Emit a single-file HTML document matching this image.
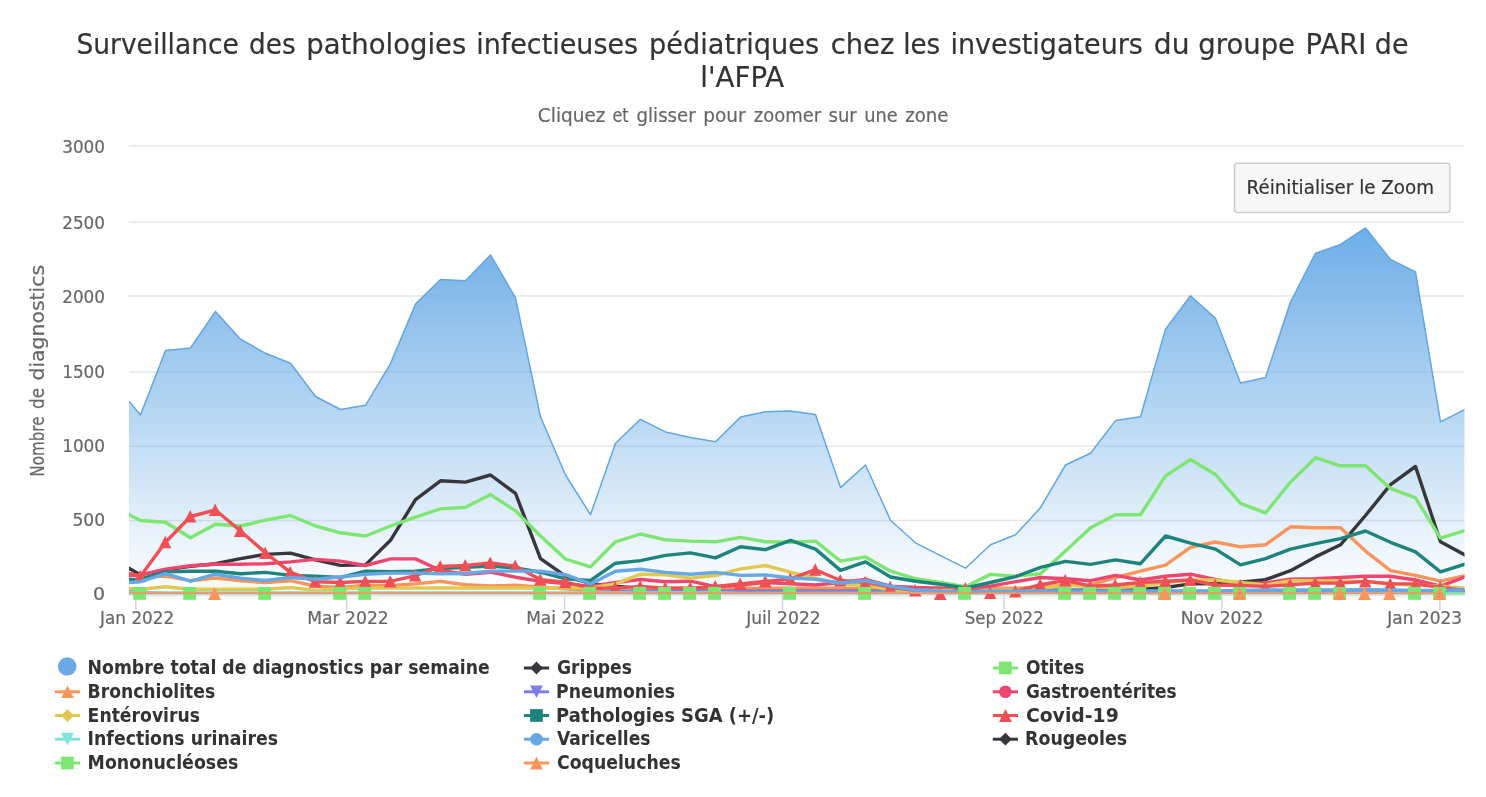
<!DOCTYPE html>
<html lang="fr"><head><meta charset="utf-8"><title>Surveillance PARI</title>
<style>html,body{margin:0;padding:0;background:#fff}svg{display:block}text{font-family:'DejaVu Sans', 'Liberation Sans', sans-serif;stroke-width:0.2px;paint-order:stroke}</style></head><body>
<svg width="1486" height="797" viewBox="0 0 1486 797">
<defs><linearGradient id="ag" x1="0" y1="0" x2="0" y2="1"><stop offset="0" stop-color="#6dade6" stop-opacity="1"/><stop offset="1" stop-color="#6dade6" stop-opacity="0"/></linearGradient>
<clipPath id="cp"><rect x="129.0" y="140" width="1335.5" height="454.10"/></clipPath></defs>
<rect width="1486" height="797" fill="#fff"/>
<path d="M129.0 146.10 H1464.5" stroke="#e6e6e6" stroke-width="1.5"/>
<path d="M129.0 221.95 H1464.5" stroke="#e6e6e6" stroke-width="1.5"/>
<path d="M129.0 296.10 H1464.5" stroke="#e6e6e6" stroke-width="1.5"/>
<path d="M129.0 371.95 H1464.5" stroke="#e6e6e6" stroke-width="1.5"/>
<path d="M129.0 446.10 H1464.5" stroke="#e6e6e6" stroke-width="1.5"/>
<path d="M129.0 520.40 H1464.5" stroke="#e6e6e6" stroke-width="1.5"/>
<path d="M129.0 594.85 H1464.5" stroke="#e6e6e6" stroke-width="1.5"/>
<path d="M129.0 594.85 H1464.5" stroke="#ccd6eb" stroke-width="1.5"/>
<path d="M135.8 594.1 V610.1" stroke="#ccd6eb" stroke-width="1.5"/>
<path d="M346.6 594.1 V610.1" stroke="#ccd6eb" stroke-width="1.5"/>
<path d="M564.6 594.1 V610.1" stroke="#ccd6eb" stroke-width="1.5"/>
<path d="M782.5 594.1 V610.1" stroke="#ccd6eb" stroke-width="1.5"/>
<path d="M1004.0 594.1 V610.1" stroke="#ccd6eb" stroke-width="1.5"/>
<path d="M1222.0 594.1 V610.1" stroke="#ccd6eb" stroke-width="1.5"/>
<path d="M1439.9 594.1 V610.1" stroke="#ccd6eb" stroke-width="1.5"/>
<g clip-path="url(#cp)" fill="none" stroke-linejoin="round" stroke-linecap="round">
<path d="M129.0 401.2 L140.5 415.0 L165.5 350.5 L190.5 348.0 L215.5 311.4 L240.5 339.2 L265.5 353.3 L290.5 363.3 L315.5 396.5 L340.5 409.5 L365.5 405.3 L390.5 363.6 L415.5 304.1 L440.5 279.5 L465.5 280.8 L490.5 254.9 L515.5 297.8 L540.5 416.8 L565.5 475.0 L590.5 514.7 L615.5 443.2 L640.5 419.3 L665.5 431.9 L690.5 437.4 L715.5 441.7 L740.5 417.1 L765.5 411.8 L790.5 411.0 L815.5 414.6 L840.5 487.6 L865.5 465.0 L890.5 520.2 L915.5 542.8 L940.5 555.6 L965.5 568.2 L990.5 544.8 L1015.5 534.8 L1040.5 507.7 L1065.5 465.0 L1090.5 453.2 L1115.5 420.6 L1140.5 416.8 L1165.5 329.2 L1190.5 295.8 L1215.5 318.4 L1240.5 382.9 L1265.5 377.4 L1290.5 302.1 L1315.5 253.2 L1340.5 244.4 L1365.5 228.0 L1390.5 259.4 L1415.5 272.0 L1440.5 421.8 L1465.0 409.3 L1465.0 594.1 L129.0 594.1 Z" fill="url(#ag)" stroke="none"/>
<path d="M129.0 401.2 L140.5 415.0 L165.5 350.5 L190.5 348.0 L215.5 311.4 L240.5 339.2 L265.5 353.3 L290.5 363.3 L315.5 396.5 L340.5 409.5 L365.5 405.3 L390.5 363.6 L415.5 304.1 L440.5 279.5 L465.5 280.8 L490.5 254.9 L515.5 297.8 L540.5 416.8 L565.5 475.0 L590.5 514.7 L615.5 443.2 L640.5 419.3 L665.5 431.9 L690.5 437.4 L715.5 441.7 L740.5 417.1 L765.5 411.8 L790.5 411.0 L815.5 414.6 L840.5 487.6 L865.5 465.0 L890.5 520.2 L915.5 542.8 L940.5 555.6 L965.5 568.2 L990.5 544.8 L1015.5 534.8 L1040.5 507.7 L1065.5 465.0 L1090.5 453.2 L1115.5 420.6 L1140.5 416.8 L1165.5 329.2 L1190.5 295.8 L1215.5 318.4 L1240.5 382.9 L1265.5 377.4 L1290.5 302.1 L1315.5 253.2 L1340.5 244.4 L1365.5 228.0 L1390.5 259.4 L1415.5 272.0 L1440.5 421.8 L1465.0 409.3" stroke="#62a6e2" stroke-width="1.5"/>
<path d="M129.0 568.2 L140.5 574.9 L165.5 569.9 L190.5 566.2 L215.5 563.7 L240.5 558.6 L265.5 554.4 L290.5 553.1 L315.5 559.9 L340.5 565.4 L365.5 564.9 L390.5 540.3 L415.5 499.6 L440.5 480.8 L465.5 482.1 L490.5 475.0 L515.5 493.4 L540.5 558.6 L565.5 576.2 L590.5 583.7 L615.5 586.2 L640.5 588.5 L665.5 590.2 L690.5 590.2 L715.5 590.2 L740.5 590.2 L765.5 590.2 L790.5 590.2 L815.5 590.2 L840.5 590.2 L865.5 590.2 L890.5 590.2 L915.5 590.2 L940.5 590.2 L965.5 590.2 L990.5 590.2 L1015.5 590.2 L1040.5 590.2 L1065.5 590.2 L1090.5 590.2 L1115.5 590.2 L1140.5 589.5 L1165.5 587.5 L1190.5 583.9 L1215.5 583.5 L1240.5 582.2 L1265.5 579.7 L1290.5 570.7 L1315.5 556.9 L1340.5 544.8 L1365.5 515.5 L1390.5 484.6 L1415.5 466.5 L1440.5 541.8 L1465.0 554.9" stroke="#36363b" stroke-width="3.4"/>
<path d="M129.0 514.7 L140.5 520.5 L165.5 522.2 L190.5 537.8 L215.5 524.2 L240.5 526.0 L265.5 520.2 L290.5 515.5 L315.5 526.0 L340.5 532.8 L365.5 536.0 L390.5 526.0 L415.5 517.2 L440.5 508.9 L465.5 507.2 L490.5 494.6 L515.5 510.9 L540.5 536.0 L565.5 559.1 L590.5 566.9 L615.5 541.8 L640.5 534.0 L665.5 539.8 L690.5 541.1 L715.5 541.8 L740.5 537.3 L765.5 541.8 L790.5 542.3 L815.5 541.1 L840.5 561.1 L865.5 556.9 L890.5 571.2 L915.5 578.7 L940.5 582.5 L965.5 586.7 L990.5 574.4 L1015.5 576.2 L1040.5 573.7 L1065.5 551.1 L1090.5 527.8 L1115.5 514.7 L1140.5 514.7 L1165.5 475.8 L1190.5 459.5 L1215.5 474.5 L1240.5 503.4 L1265.5 512.9 L1290.5 482.1 L1315.5 457.7 L1340.5 465.8 L1365.5 465.8 L1390.5 488.4 L1415.5 497.9 L1440.5 538.1 L1465.0 530.5" stroke="#7de673" stroke-width="3.4"/>
<path d="M129.0 573.7 L140.5 576.2 L165.5 576.2 L190.5 580.7 L215.5 578.0 L240.5 580.7 L265.5 582.5 L290.5 580.7 L315.5 586.2 L340.5 587.5 L365.5 585.5 L390.5 585.5 L415.5 583.9 L440.5 581.4 L465.5 584.7 L490.5 585.9 L515.5 585.2 L540.5 587.2 L565.5 588.9 L590.5 591.4 L615.5 588.1 L640.5 588.1 L665.5 588.1 L690.5 588.1 L715.5 588.1 L740.5 588.1 L765.5 588.1 L790.5 588.1 L815.5 588.1 L840.5 588.1 L865.5 588.1 L890.5 588.1 L915.5 588.1 L940.5 588.1 L965.5 588.1 L990.5 588.1 L1015.5 588.1 L1040.5 587.1 L1065.5 585.0 L1090.5 585.0 L1115.5 577.5 L1140.5 571.2 L1165.5 565.1 L1190.5 547.3 L1215.5 542.0 L1240.5 546.8 L1265.5 544.8 L1290.5 526.8 L1315.5 527.8 L1340.5 527.8 L1365.5 551.1 L1390.5 570.7 L1415.5 575.4 L1440.5 581.2 L1465.0 575.7" stroke="#f9955a" stroke-width="3.4"/>
<path d="M129.0 591.8 L140.5 592.2 L165.5 593.4 L190.5 593.4 L215.5 593.4 L240.5 593.4 L265.5 593.4 L290.5 593.4 L315.5 593.4 L340.5 593.4 L365.5 593.4 L390.5 593.4 L415.5 593.4 L440.5 593.4 L465.5 593.4 L490.5 593.4 L515.5 593.4 L540.5 593.4 L565.5 593.4 L590.5 593.4 L615.5 591.4 L640.5 591.4 L665.5 591.4 L690.5 591.4 L715.5 591.4 L740.5 591.4 L765.5 591.4 L790.5 591.4 L815.5 591.4 L840.5 591.4 L865.5 591.4 L890.5 591.4 L915.5 591.4 L940.5 591.4 L965.5 591.4 L990.5 591.4 L1015.5 591.4 L1040.5 591.4 L1065.5 591.4 L1090.5 591.4 L1115.5 591.4 L1140.5 591.4 L1165.5 591.4 L1190.5 591.4 L1215.5 591.4 L1240.5 591.4 L1265.5 591.4 L1290.5 591.4 L1315.5 591.4 L1340.5 591.4 L1365.5 591.4 L1390.5 591.4 L1415.5 591.4 L1440.5 591.4 L1465.0 591.4" stroke="#7b7fe6" stroke-width="3.4"/>
<path d="M129.0 575.5 L140.5 574.9 L165.5 569.2 L190.5 565.7 L215.5 564.2 L240.5 564.2 L265.5 563.7 L290.5 561.9 L315.5 559.4 L340.5 561.1 L365.5 565.5 L390.5 558.9 L415.5 558.9 L440.5 570.5 L465.5 574.2 L490.5 572.2 L515.5 577.2 L540.5 581.4 L565.5 583.5 L590.5 586.4 L615.5 582.5 L640.5 579.5 L665.5 581.7 L690.5 581.2 L715.5 586.7 L740.5 585.0 L765.5 582.5 L790.5 583.7 L815.5 585.0 L840.5 582.5 L865.5 579.5 L890.5 586.2 L915.5 587.5 L940.5 588.2 L965.5 589.3 L990.5 586.2 L1015.5 581.7 L1040.5 577.5 L1065.5 578.7 L1090.5 580.7 L1115.5 575.4 L1140.5 580.0 L1165.5 576.2 L1190.5 574.2 L1215.5 579.5 L1240.5 583.7 L1265.5 583.0 L1290.5 579.2 L1315.5 578.7 L1340.5 577.5 L1365.5 576.2 L1390.5 576.2 L1415.5 580.0 L1440.5 586.2 L1465.0 577.0" stroke="#ee466e" stroke-width="3.4"/>
<path d="M129.0 588.5 L140.5 589.3 L165.5 586.7 L190.5 589.3 L215.5 589.3 L240.5 589.3 L265.5 589.3 L290.5 587.5 L315.5 590.5 L340.5 588.8 L365.5 588.0 L390.5 588.0 L415.5 588.0 L440.5 588.0 L465.5 588.0 L490.5 588.0 L515.5 588.0 L540.5 588.0 L565.5 588.0 L590.5 588.0 L615.5 583.9 L640.5 574.2 L665.5 574.7 L690.5 578.1 L715.5 575.5 L740.5 568.9 L765.5 565.5 L790.5 572.2 L815.5 578.1 L840.5 583.9 L865.5 585.0 L890.5 590.0 L915.5 590.5 L940.5 590.5 L965.5 590.5 L990.5 590.5 L1015.5 590.0 L1040.5 588.8 L1065.5 585.0 L1090.5 586.7 L1115.5 587.5 L1140.5 586.5 L1165.5 582.5 L1190.5 580.0 L1215.5 580.0 L1240.5 582.5 L1265.5 585.0 L1290.5 580.7 L1315.5 580.7 L1340.5 581.2 L1365.5 581.7 L1390.5 583.7 L1415.5 585.0 L1440.5 586.2 L1465.0 588.2" stroke="#e1c850" stroke-width="3.4"/>
<path d="M129.0 579.5 L140.5 579.2 L165.5 571.9 L190.5 571.2 L215.5 571.2 L240.5 573.7 L265.5 572.4 L290.5 575.4 L315.5 576.2 L340.5 577.5 L365.5 571.2 L390.5 571.7 L415.5 571.2 L440.5 568.5 L465.5 567.2 L490.5 566.0 L515.5 568.0 L540.5 572.2 L565.5 578.9 L590.5 580.5 L615.5 563.2 L640.5 560.6 L665.5 555.4 L690.5 552.9 L715.5 557.9 L740.5 546.8 L765.5 549.6 L790.5 540.3 L815.5 549.1 L840.5 570.4 L865.5 561.9 L890.5 577.0 L915.5 581.2 L940.5 584.2 L965.5 588.0 L990.5 582.5 L1015.5 576.7 L1040.5 567.4 L1065.5 561.4 L1090.5 564.4 L1115.5 559.9 L1140.5 563.7 L1165.5 536.0 L1190.5 543.1 L1215.5 549.1 L1240.5 564.9 L1265.5 558.6 L1290.5 549.1 L1315.5 543.6 L1340.5 538.6 L1365.5 531.0 L1390.5 542.3 L1415.5 551.9 L1440.5 571.9 L1465.0 564.2" stroke="#1d847d" stroke-width="3.4"/>
<path d="M129.0 573.5 L140.5 576.2 L165.5 542.3 L190.5 516.5 L215.5 510.0 L240.5 531.0 L265.5 552.9 L290.5 572.4 L315.5 581.7 L340.5 582.5 L365.5 581.4 L390.5 581.4 L415.5 575.6 L440.5 566.4 L465.5 565.5 L490.5 563.0 L515.5 566.0 L540.5 579.7 L565.5 582.2 L590.5 588.1 L615.5 588.1 L640.5 586.4 L665.5 588.1 L690.5 588.1 L715.5 586.4 L740.5 583.9 L765.5 581.4 L790.5 578.9 L815.5 569.7 L840.5 580.5 L865.5 582.2 L890.5 587.2 L915.5 590.5 L940.5 594.1 L965.5 588.5 L990.5 593.1 L1015.5 591.4 L1040.5 584.7 L1065.5 580.5 L1090.5 586.2 L1115.5 585.0 L1140.5 582.5 L1165.5 581.2 L1190.5 580.0 L1215.5 585.0 L1240.5 585.5 L1265.5 586.4 L1290.5 584.7 L1315.5 583.1 L1340.5 583.1 L1365.5 581.4 L1390.5 583.9 L1415.5 583.9 L1440.5 587.2 L1465.0 590.5" stroke="#f05055" stroke-width="3.4"/>
</g><g>
<path d="M140.2 569.7 L146.4 582.2 L133.9 582.2 Z" fill="#f05055"/>
<path d="M165.2 535.8 L171.4 548.2 L158.9 548.2 Z" fill="#f05055"/>
<path d="M190.2 510.0 L196.4 522.5 L183.9 522.5 Z" fill="#f05055"/>
<path d="M215.2 503.4 L221.4 516.0 L208.9 516.0 Z" fill="#f05055"/>
<path d="M240.2 524.5 L246.4 537.0 L233.9 537.0 Z" fill="#f05055"/>
<path d="M265.2 546.4 L271.4 558.9 L258.9 558.9 Z" fill="#f05055"/>
<path d="M290.2 565.9 L296.4 578.4 L283.9 578.4 Z" fill="#f05055"/>
<path d="M315.2 575.2 L321.4 587.7 L308.9 587.7 Z" fill="#f05055"/>
<path d="M340.2 576.0 L346.4 588.5 L333.9 588.5 Z" fill="#f05055"/>
<path d="M365.2 574.9 L371.4 587.4 L358.9 587.4 Z" fill="#f05055"/>
<path d="M390.2 574.9 L396.4 587.4 L383.9 587.4 Z" fill="#f05055"/>
<path d="M415.2 569.1 L421.4 581.6 L408.9 581.6 Z" fill="#f05055"/>
<path d="M440.2 559.9 L446.4 572.4 L433.9 572.4 Z" fill="#f05055"/>
<path d="M465.2 559.0 L471.4 571.5 L458.9 571.5 Z" fill="#f05055"/>
<path d="M490.2 556.5 L496.4 569.0 L483.9 569.0 Z" fill="#f05055"/>
<path d="M515.2 559.5 L521.5 572.0 L509.0 572.0 Z" fill="#f05055"/>
<path d="M540.2 573.2 L546.5 585.7 L534.0 585.7 Z" fill="#f05055"/>
<path d="M565.2 575.7 L571.5 588.2 L559.0 588.2 Z" fill="#f05055"/>
<path d="M590.2 581.6 L596.5 594.1 L584.0 594.1 Z" fill="#f05055"/>
<path d="M615.2 581.6 L621.5 594.1 L609.0 594.1 Z" fill="#f05055"/>
<path d="M640.2 579.9 L646.5 592.4 L634.0 592.4 Z" fill="#f05055"/>
<path d="M665.2 581.6 L671.5 594.1 L659.0 594.1 Z" fill="#f05055"/>
<path d="M690.2 581.6 L696.5 594.1 L684.0 594.1 Z" fill="#f05055"/>
<path d="M715.2 579.9 L721.5 592.4 L709.0 592.4 Z" fill="#f05055"/>
<path d="M740.2 577.4 L746.5 589.9 L734.0 589.9 Z" fill="#f05055"/>
<path d="M765.2 574.9 L771.5 587.4 L759.0 587.4 Z" fill="#f05055"/>
<path d="M790.2 572.4 L796.5 584.9 L784.0 584.9 Z" fill="#f05055"/>
<path d="M815.2 563.2 L821.5 575.7 L809.0 575.7 Z" fill="#f05055"/>
<path d="M840.2 574.0 L846.5 586.5 L834.0 586.5 Z" fill="#f05055"/>
<path d="M865.2 575.7 L871.5 588.2 L859.0 588.2 Z" fill="#f05055"/>
<path d="M890.2 580.7 L896.5 593.2 L884.0 593.2 Z" fill="#f05055"/>
<path d="M915.2 584.0 L921.5 596.5 L909.0 596.5 Z" fill="#f05055"/>
<path d="M940.2 587.6 L946.5 600.1 L934.0 600.1 Z" fill="#f05055"/>
<path d="M965.2 582.0 L971.5 594.5 L959.0 594.5 Z" fill="#f05055"/>
<path d="M990.2 586.6 L996.5 599.1 L984.0 599.1 Z" fill="#f05055"/>
<path d="M1015.2 584.9 L1021.5 597.4 L1009.0 597.4 Z" fill="#f05055"/>
<path d="M1040.2 578.2 L1046.5 590.7 L1034.0 590.7 Z" fill="#f05055"/>
<path d="M1065.2 574.0 L1071.5 586.5 L1059.0 586.5 Z" fill="#f05055"/>
<path d="M1090.2 579.7 L1096.5 592.2 L1084.0 592.2 Z" fill="#f05055"/>
<path d="M1115.2 578.5 L1121.5 591.0 L1109.0 591.0 Z" fill="#f05055"/>
<path d="M1140.2 576.0 L1146.5 588.5 L1134.0 588.5 Z" fill="#f05055"/>
<path d="M1165.2 574.7 L1171.5 587.2 L1159.0 587.2 Z" fill="#f05055"/>
<path d="M1190.2 573.5 L1196.5 586.0 L1184.0 586.0 Z" fill="#f05055"/>
<path d="M1215.2 578.5 L1221.5 591.0 L1209.0 591.0 Z" fill="#f05055"/>
<path d="M1240.2 579.0 L1246.5 591.5 L1234.0 591.5 Z" fill="#f05055"/>
<path d="M1265.2 579.9 L1271.5 592.4 L1259.0 592.4 Z" fill="#f05055"/>
<path d="M1290.2 578.2 L1296.5 590.7 L1284.0 590.7 Z" fill="#f05055"/>
<path d="M1315.2 576.6 L1321.5 589.1 L1309.0 589.1 Z" fill="#f05055"/>
<path d="M1340.2 576.6 L1346.5 589.1 L1334.0 589.1 Z" fill="#f05055"/>
<path d="M1365.2 574.9 L1371.5 587.4 L1359.0 587.4 Z" fill="#f05055"/>
<path d="M1390.2 577.4 L1396.5 589.9 L1384.0 589.9 Z" fill="#f05055"/>
<path d="M1415.2 577.4 L1421.5 589.9 L1409.0 589.9 Z" fill="#f05055"/>
<path d="M1440.2 580.7 L1446.5 593.2 L1434.0 593.2 Z" fill="#f05055"/>
</g><g clip-path="url(#cp)" fill="none" stroke-linejoin="round" stroke-linecap="round">
<path d="M129.0 593.0 L140.5 593.0 L165.5 593.0 L190.5 593.0 L215.5 593.0 L240.5 593.0 L265.5 593.0 L290.5 593.0 L315.5 593.0 L340.5 593.0 L365.5 593.0 L390.5 593.0 L415.5 593.0 L440.5 593.0 L465.5 593.0 L490.5 593.0 L515.5 593.0 L540.5 593.0 L565.5 593.0 L590.5 593.0 L615.5 593.0 L640.5 593.0 L665.5 593.0 L690.5 593.0 L715.5 593.0 L740.5 593.5 L765.5 593.5 L790.5 593.5 L815.5 593.5 L840.5 593.5 L865.5 593.5 L890.5 593.5 L915.5 593.5 L940.5 593.5 L965.5 593.5 L990.5 593.5 L1015.5 593.5 L1040.5 593.5 L1065.5 593.5 L1090.5 593.5 L1115.5 593.5 L1140.5 593.5 L1165.5 593.5 L1190.5 593.5 L1215.5 593.5 L1240.5 593.5 L1265.5 593.5 L1290.5 593.5 L1315.5 593.5 L1340.5 593.5 L1365.5 593.5 L1390.5 593.5 L1415.5 593.5 L1440.5 593.5 L1465.0 593.5" stroke="#7de4dc" stroke-width="3.4"/>
<path d="M129.0 582.5 L140.5 581.7 L165.5 573.7 L190.5 581.2 L215.5 574.2 L240.5 578.2 L265.5 580.5 L290.5 577.5 L315.5 579.2 L340.5 577.0 L365.5 574.2 L390.5 573.1 L415.5 573.1 L440.5 573.9 L465.5 573.5 L490.5 571.1 L515.5 571.1 L540.5 571.1 L565.5 574.7 L590.5 583.9 L615.5 571.2 L640.5 569.2 L665.5 572.4 L690.5 574.2 L715.5 572.4 L740.5 575.4 L765.5 574.9 L790.5 578.0 L815.5 579.2 L840.5 583.0 L865.5 580.7 L890.5 586.2 L915.5 590.0 L940.5 591.3 L965.5 591.8 L990.5 591.3 L1015.5 591.3 L1040.5 591.0 L1065.5 591.0 L1090.5 591.0 L1115.5 591.0 L1140.5 591.0 L1165.5 591.0 L1190.5 591.0 L1215.5 591.0 L1240.5 590.5 L1265.5 590.0 L1290.5 590.0 L1315.5 590.0 L1340.5 590.0 L1365.5 589.7 L1390.5 590.0 L1415.5 590.5 L1440.5 590.5 L1465.0 589.5" stroke="#66a8e3" stroke-width="3.4"/>
<path d="M129.0 594.1 H1464.5" stroke="#36363b" stroke-width="1.5"/>
<path d="M1440.5 594.1 L1464.5 594.1" stroke="#7de673" stroke-width="3.4"/>
</g><g>
<rect x="133.2" y="586.9" width="12.9" height="12.9" fill="#7de673"/>
<rect x="183.2" y="586.9" width="12.9" height="12.9" fill="#7de673"/>
<rect x="258.2" y="586.9" width="12.9" height="12.9" fill="#7de673"/>
<rect x="333.2" y="586.9" width="12.9" height="12.9" fill="#7de673"/>
<rect x="358.2" y="586.9" width="12.9" height="12.9" fill="#7de673"/>
<rect x="533.1" y="586.9" width="12.9" height="12.9" fill="#7de673"/>
<rect x="583.1" y="586.9" width="12.9" height="12.9" fill="#7de673"/>
<rect x="633.1" y="586.9" width="12.9" height="12.9" fill="#7de673"/>
<rect x="658.1" y="586.9" width="12.9" height="12.9" fill="#7de673"/>
<rect x="683.1" y="586.9" width="12.9" height="12.9" fill="#7de673"/>
<rect x="708.1" y="586.9" width="12.9" height="12.9" fill="#7de673"/>
<rect x="783.1" y="586.9" width="12.9" height="12.9" fill="#7de673"/>
<rect x="858.1" y="586.9" width="12.9" height="12.9" fill="#7de673"/>
<rect x="958.1" y="586.9" width="12.9" height="12.9" fill="#7de673"/>
<rect x="1058.1" y="586.9" width="12.9" height="12.9" fill="#7de673"/>
<rect x="1083.1" y="586.9" width="12.9" height="12.9" fill="#7de673"/>
<rect x="1108.1" y="586.9" width="12.9" height="12.9" fill="#7de673"/>
<rect x="1133.1" y="586.9" width="12.9" height="12.9" fill="#7de673"/>
<rect x="1158.1" y="586.9" width="12.9" height="12.9" fill="#7de673"/>
<rect x="1183.1" y="586.9" width="12.9" height="12.9" fill="#7de673"/>
<rect x="1208.1" y="586.9" width="12.9" height="12.9" fill="#7de673"/>
<rect x="1233.1" y="586.9" width="12.9" height="12.9" fill="#7de673"/>
<rect x="1283.1" y="586.9" width="12.9" height="12.9" fill="#7de673"/>
<rect x="1308.1" y="586.9" width="12.9" height="12.9" fill="#7de673"/>
<rect x="1333.1" y="586.9" width="12.9" height="12.9" fill="#7de673"/>
<rect x="1408.1" y="586.9" width="12.9" height="12.9" fill="#7de673"/>
<rect x="1433.1" y="586.9" width="12.9" height="12.9" fill="#7de673"/>
</g><g clip-path="url(#cp)" fill="none">
<path d="M129.0 594.1 H1440.5" stroke="#f9955a" stroke-width="3.80"/>
</g><g>
<path d="M214.6 586.9 L221.0 599.9 L208.2 599.9 Z" fill="#f9955a"/>
<path d="M1164.6 586.9 L1171.0 599.9 L1158.1 599.9 Z" fill="#f9955a"/>
<path d="M1239.6 586.9 L1246.0 599.9 L1233.1 599.9 Z" fill="#f9955a"/>
<path d="M1339.6 586.9 L1346.0 599.9 L1333.1 599.9 Z" fill="#f9955a"/>
<path d="M1364.6 586.9 L1371.0 599.9 L1358.1 599.9 Z" fill="#f9955a"/>
<path d="M1389.6 586.9 L1396.0 599.9 L1383.1 599.9 Z" fill="#f9955a"/>
<path d="M1439.6 586.9 L1446.0 599.9 L1433.1 599.9 Z" fill="#f9955a"/>
</g>
<text y="53.90" font-size="28.7" fill="#333" stroke="#333" font-weight="normal"><tspan x="76.48" textLength="162.32" lengthAdjust="spacingAndGlyphs">Surveillance</tspan> <tspan x="249.08" textLength="46.58" lengthAdjust="spacingAndGlyphs">des</tspan> <tspan x="306.28" textLength="160.02" lengthAdjust="spacingAndGlyphs">pathologies</tspan> <tspan x="476.22" textLength="161.87" lengthAdjust="spacingAndGlyphs">infectieuses</tspan> <tspan x="649.11" textLength="170.09" lengthAdjust="spacingAndGlyphs">pédiatriques</tspan> <tspan x="830.75" textLength="63.56" lengthAdjust="spacingAndGlyphs">chez</tspan> <tspan x="903.17" textLength="37.09" lengthAdjust="spacingAndGlyphs">les</tspan> <tspan x="950.52" textLength="192.37" lengthAdjust="spacingAndGlyphs">investigateurs</tspan> <tspan x="1153.82" textLength="35.72" lengthAdjust="spacingAndGlyphs">du</tspan> <tspan x="1198.24" textLength="96.78" lengthAdjust="spacingAndGlyphs">groupe</tspan> <tspan x="1305.59" textLength="60.77" lengthAdjust="spacingAndGlyphs">PARI</tspan> <tspan x="1374.86" textLength="33.54" lengthAdjust="spacingAndGlyphs">de</tspan></text>
<text x="700.27" y="87.00" font-size="28.7" fill="#333" stroke="#333" font-weight="normal" textLength="83.97" lengthAdjust="spacingAndGlyphs">l'AFPA</text>
<text y="121.50" font-size="19.4" fill="#666" stroke="#666" font-weight="normal"><tspan x="537.85" textLength="67.72" lengthAdjust="spacingAndGlyphs">Cliquez</tspan> <tspan x="612.47" textLength="16.20" lengthAdjust="spacingAndGlyphs">et</tspan> <tspan x="636.56" textLength="59.11" lengthAdjust="spacingAndGlyphs">glisser</tspan> <tspan x="703.15" textLength="42.43" lengthAdjust="spacingAndGlyphs">pour</tspan> <tspan x="753.80" textLength="67.47" lengthAdjust="spacingAndGlyphs">zoomer</tspan> <tspan x="828.57" textLength="28.20" lengthAdjust="spacingAndGlyphs">sur</tspan> <tspan x="864.28" textLength="33.57" lengthAdjust="spacingAndGlyphs">une</tspan> <tspan x="905.20" textLength="43.27" lengthAdjust="spacingAndGlyphs">zone</tspan></text>
<text x="62.20" y="153.20" font-size="17.2" fill="#666" stroke="#666" font-weight="normal" textLength="42.81" lengthAdjust="spacingAndGlyphs">3000</text>
<text x="62.20" y="229.20" font-size="17.2" fill="#666" stroke="#666" font-weight="normal" textLength="42.81" lengthAdjust="spacingAndGlyphs">2500</text>
<text x="62.20" y="303.20" font-size="17.2" fill="#666" stroke="#666" font-weight="normal" textLength="42.81" lengthAdjust="spacingAndGlyphs">2000</text>
<text x="62.20" y="378.20" font-size="17.2" fill="#666" stroke="#666" font-weight="normal" textLength="42.81" lengthAdjust="spacingAndGlyphs">1500</text>
<text x="62.20" y="452.20" font-size="17.2" fill="#666" stroke="#666" font-weight="normal" textLength="42.81" lengthAdjust="spacingAndGlyphs">1000</text>
<text x="72.52" y="526.35" font-size="17.2" fill="#666" stroke="#666" font-weight="normal" textLength="32.51" lengthAdjust="spacingAndGlyphs">500</text>
<text x="93.07" y="600.10" font-size="17.2" fill="#666" stroke="#666" font-weight="normal" textLength="12.07" lengthAdjust="spacingAndGlyphs">0</text>
<text x="100.08" y="624.30" font-size="17.2" fill="#666" stroke="#666" font-weight="normal" textLength="74.14" lengthAdjust="spacingAndGlyphs">Jan 2022</text>
<text x="307.15" y="624.30" font-size="17.2" fill="#666" stroke="#666" font-weight="normal" textLength="81.64" lengthAdjust="spacingAndGlyphs">Mar 2022</text>
<text x="526.16" y="624.30" font-size="17.2" fill="#666" stroke="#666" font-weight="normal" textLength="78.62" lengthAdjust="spacingAndGlyphs">Mai 2022</text>
<text x="746.15" y="624.30" font-size="17.2" fill="#666" stroke="#666" font-weight="normal" textLength="74.64" lengthAdjust="spacingAndGlyphs">Juil 2022</text>
<text x="964.73" y="624.30" font-size="17.2" fill="#666" stroke="#666" font-weight="normal" textLength="79.08" lengthAdjust="spacingAndGlyphs">Sep 2022</text>
<text x="1180.70" y="624.30" font-size="17.2" fill="#666" stroke="#666" font-weight="normal" textLength="82.73" lengthAdjust="spacingAndGlyphs">Nov 2022</text>
<text x="1387.29" y="624.30" font-size="17.2" fill="#666" stroke="#666" font-weight="normal" textLength="74.84" lengthAdjust="spacingAndGlyphs">Jan 2023</text>
<g transform="translate(43.6 0) rotate(-90)">
<text y="0.00" font-size="19.4" fill="#666" stroke="#666" font-weight="normal"><tspan x="-476.68" textLength="60.21" lengthAdjust="spacingAndGlyphs">Nombre</tspan> <tspan x="-408.97" textLength="21.19" lengthAdjust="spacingAndGlyphs">de</tspan> <tspan x="-380.55" textLength="115.56" lengthAdjust="spacingAndGlyphs">diagnostics</tspan></text>
</g>
<rect x="1234.5" y="163.2" width="215.4" height="49.4" rx="3" ry="3" fill="#f7f7f7" stroke="#ccc" stroke-width="1.5"/>
<text x="1246.56" y="193.60" font-size="19.4" fill="#333" stroke="#333" font-weight="normal" textLength="187.48" lengthAdjust="spacingAndGlyphs">Réinitialiser le Zoom</text>
<circle cx="67.2" cy="666.5" r="9.3" fill="#6aa9e4"/>
<text x="87.61" y="674.10" font-size="19.3" fill="#333" stroke="none" font-weight="bold" textLength="402.06" lengthAdjust="spacingAndGlyphs">Nombre total de diagnostics par semaine</text>
<path d="M523.9 668.0 H549.1" stroke="#36363b" stroke-width="3"/>
<path d="M536.5 661.6 L542.9 668.0 L536.5 674.4 L530.1 668.0 Z" fill="#36363b"/>
<text x="557.00" y="674.10" font-size="19.3" fill="#333" stroke="none" font-weight="bold" textLength="74.92" lengthAdjust="spacingAndGlyphs">Grippes</text>
<path d="M992.8 668.0 H1018.0" stroke="#7de673" stroke-width="3"/>
<rect x="999.0" y="661.6" width="12.7" height="12.7" fill="#7de673"/>
<text x="1025.90" y="674.10" font-size="19.3" fill="#333" stroke="none" font-weight="bold" textLength="58.52" lengthAdjust="spacingAndGlyphs">Otites</text>
<path d="M54.9 691.8 H80.1" stroke="#f9955a" stroke-width="3"/>
<path d="M67.5 685.4 L73.8 698.1 L61.1 698.1 Z" fill="#f9955a"/>
<text x="87.61" y="697.90" font-size="19.3" fill="#333" stroke="none" font-weight="bold" textLength="127.51" lengthAdjust="spacingAndGlyphs">Bronchiolites</text>
<path d="M523.9 691.8 H549.1" stroke="#7b7fe6" stroke-width="3"/>
<path d="M530.1 685.4 L542.9 685.4 L536.5 698.1 Z" fill="#7b7fe6"/>
<text x="556.11" y="697.90" font-size="19.3" fill="#333" stroke="none" font-weight="bold" textLength="118.92" lengthAdjust="spacingAndGlyphs">Pneumonies</text>
<path d="M992.8 691.8 H1018.0" stroke="#ee466e" stroke-width="3"/>
<circle cx="1005.4" cy="691.8" r="6.3" fill="#ee466e"/>
<text x="1025.90" y="697.90" font-size="19.3" fill="#333" stroke="none" font-weight="bold" textLength="150.72" lengthAdjust="spacingAndGlyphs">Gastroentérites</text>
<path d="M54.9 715.5 H80.1" stroke="#e1c850" stroke-width="3"/>
<path d="M67.5 709.1 L73.8 715.5 L67.5 721.9 L61.1 715.5 Z" fill="#e1c850"/>
<text x="87.61" y="721.60" font-size="19.3" fill="#333" stroke="none" font-weight="bold" textLength="112.42" lengthAdjust="spacingAndGlyphs">Entérovirus</text>
<path d="M523.9 715.5 H549.1" stroke="#1d847d" stroke-width="3"/>
<rect x="530.1" y="709.1" width="12.7" height="12.7" fill="#1d847d"/>
<text x="556.07" y="721.60" font-size="19.3" fill="#333" stroke="none" font-weight="bold" textLength="218.19" lengthAdjust="spacingAndGlyphs">Pathologies SGA (+/-)</text>
<path d="M992.8 715.5 H1018.0" stroke="#f05055" stroke-width="3"/>
<path d="M1005.4 709.1 L1011.8 721.9 L999.0 721.9 Z" fill="#f05055"/>
<text x="1025.90" y="721.60" font-size="19.3" fill="#333" stroke="none" font-weight="bold" textLength="92.91" lengthAdjust="spacingAndGlyphs">Covid-19</text>
<path d="M54.9 739.2 H80.1" stroke="#7de4dc" stroke-width="3"/>
<path d="M61.1 732.8 L73.8 732.8 L67.5 745.5 Z" fill="#7de4dc"/>
<text x="87.60" y="745.30" font-size="19.3" fill="#333" stroke="none" font-weight="bold" textLength="190.43" lengthAdjust="spacingAndGlyphs">Infections urinaires</text>
<path d="M523.9 739.2 H549.1" stroke="#66a8e3" stroke-width="3"/>
<circle cx="536.5" cy="739.2" r="6.3" fill="#66a8e3"/>
<text x="557.00" y="745.30" font-size="19.3" fill="#333" stroke="none" font-weight="bold" textLength="93.42" lengthAdjust="spacingAndGlyphs">Varicelles</text>
<path d="M992.8 739.2 H1018.0" stroke="#36363b" stroke-width="3"/>
<path d="M1005.4 732.8 L1011.8 739.2 L1005.4 745.5 L999.0 739.2 Z" fill="#36363b"/>
<text x="1025.00" y="745.30" font-size="19.3" fill="#333" stroke="none" font-weight="bold" textLength="102.23" lengthAdjust="spacingAndGlyphs">Rougeoles</text>
<path d="M54.9 763.0 H80.1" stroke="#7de673" stroke-width="3"/>
<rect x="61.1" y="756.6" width="12.7" height="12.7" fill="#7de673"/>
<text x="87.60" y="769.10" font-size="19.3" fill="#333" stroke="none" font-weight="bold" textLength="150.73" lengthAdjust="spacingAndGlyphs">Mononucléoses</text>
<path d="M523.9 763.0 H549.1" stroke="#f9955a" stroke-width="3"/>
<path d="M536.5 756.6 L542.9 769.4 L530.1 769.4 Z" fill="#f9955a"/>
<text x="557.00" y="769.10" font-size="19.3" fill="#333" stroke="none" font-weight="bold" textLength="123.73" lengthAdjust="spacingAndGlyphs">Coqueluches</text>
</svg></body></html>
